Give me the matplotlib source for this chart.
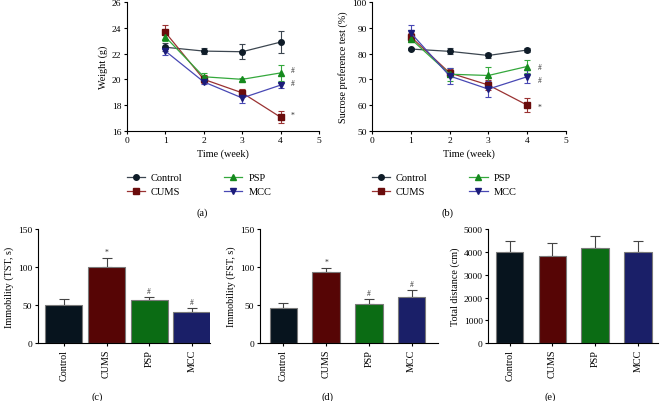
import matplotlib
matplotlib.use("Agg")
import matplotlib.pyplot as plt
from matplotlib.lines import Line2D
import numpy as np

plt.rcParams['font.family'] = ['Liberation Serif', 'DejaVu Serif']
plt.rcParams['font.size'] = 7
plt.rcParams['axes.linewidth'] = 0.8
plt.rcParams['xtick.major.width'] = 0.8
plt.rcParams['ytick.major.width'] = 0.8
plt.rcParams['xtick.major.size'] = 2.5
plt.rcParams['ytick.major.size'] = 2.5
plt.rcParams['xtick.labelsize'] = 6.8
plt.rcParams['ytick.labelsize'] = 6.8

weeks = [1, 2, 3, 4]
groups = ["Control", "CUMS", "PSP", "MCC"]

weight_mean = {
    "Control": [22.5, 22.2, 22.15, 22.9],
    "CUMS": [23.65, 20.0, 18.95, 17.05],
    "PSP": [23.3, 20.2, 20.0, 20.5],
    "MCC": [22.2, 19.8, 18.55, 19.55],
}
weight_err = {
    "Control": [0.3, 0.25, 0.6, 0.85],
    "CUMS": [0.6, 0.3, 0.3, 0.45],
    "PSP": [0.3, 0.3, 0.1, 0.65],
    "MCC": [0.3, 0.2, 0.4, 0.2],
}
sucrose_mean = {
    "Control": [81.8, 80.9, 79.3, 81.4],
    "CUMS": [86.5, 72.5, 67.8, 60.0],
    "PSP": [85.7, 72.0, 71.5, 75.0],
    "MCC": [88.0, 71.3, 66.2, 71.0],
}
sucrose_err = {
    "Control": [0.5, 1.2, 1.0, 0.9],
    "CUMS": [1.5, 1.5, 1.8, 2.9],
    "PSP": [1.2, 2.5, 3.3, 2.6],
    "MCC": [3.0, 3.0, 3.2, 2.5],
}
weight_marks = [("#", 20.75), ("#", 19.7), ("*", 17.2)]
sucrose_marks = [("#", 74.9), ("#", 69.7), ("*", 59.4)]

tst_mean = [50.3, 100.6, 56.8, 40.7]
tst_err = [8.0, 11.0, 3.5, 5.6]
tst_marks = ["", "*", "#", "#"]
fst_mean = [46.8, 94.0, 52.0, 60.3]
fst_err = [6.5, 4.4, 6.0, 9.6]
fst_marks = ["", "*", "#", "#"]
dist_mean = [3980, 3834, 4169, 4009]
dist_err = [510, 550, 540, 480]

marker_colors = {"Control": "#0f1c28", "CUMS": "#6a0c0c", "PSP": "#168a1e", "MCC": "#1c1c7a"}
line_colors = {"Control": "#3c4650", "CUMS": "#9a3232", "PSP": "#34a83c", "MCC": "#4848b4"}
markers = {"Control": "o", "CUMS": "s", "PSP": "^", "MCC": "v"}
bar_colors = ["#07141e", "#560505", "#0b6c14", "#1a1f68"]

W, H = 661, 402
fig = plt.figure(figsize=(W / 100, H / 100), dpi=100)


def ax_px(left, right, top, bottom):
    return fig.add_axes([left / W, 1 - bottom / H, (right - left) / W, (bottom - top) / H])


def style(ax):
    for s in ["top", "right"]:
        ax.spines[s].set_visible(False)
    ax.tick_params(direction="out", pad=1.5)


def line_panel(ax, means, errs, ylim, yticks, ylabel, marks):
    style(ax)
    for g in groups:
        ax.errorbar(weeks, means[g], yerr=errs[g], color=line_colors[g], lw=0.9,
                    marker=markers[g], ms=4, mfc=marker_colors[g], mec=marker_colors[g],
                    ecolor=line_colors[g], elinewidth=0.8, capsize=2.5, capthick=0.8)
    ax.set_xlim(0, 5)
    ax.set_ylim(*ylim)
    ax.set_xticks([0, 1, 2, 3, 4, 5])
    ax.set_yticks(yticks)
    ax.set_xlabel("Time (week)", labelpad=3, fontsize=7.3)
    ax.set_ylabel(ylabel, labelpad=3, fontsize=7.3)
    for txt, y in marks:
        ax.text(4.32, y, txt, fontsize=5.5, ha="center", va="center", color="#333333")


ax_a = ax_px(127, 319, 3.3, 131.7)
line_panel(ax_a, weight_mean, weight_err, (16, 26), [16, 18, 20, 22, 24, 26], "Weight (g)", weight_marks)
ax_b = ax_px(372.3, 565.7, 3.3, 131.7)
line_panel(ax_b, sucrose_mean, sucrose_err, (50, 100), [50, 60, 70, 80, 90, 100],
           "Sucrose preference test (%)", sucrose_marks)

handles = [Line2D([], [], color=line_colors[g], lw=0.9, marker=markers[g], ms=4,
                  mfc=marker_colors[g], mec=marker_colors[g]) for g in groups]
for x0 in [126.5, 371.5]:
    fig.legend(handles, groups, ncol=2, loc="upper left",
               bbox_to_anchor=(x0 / W, 1 - 174 / H), frameon=False,
               handlelength=1.75, columnspacing=4.0, handletextpad=0.6, labelspacing=0.45,
               fontsize=7.5, borderaxespad=0, borderpad=0)

fig.text(202 / W, 1 - 213 / H, "(a)", ha="center", va="center", fontsize=7.5)
fig.text(448 / W, 1 - 213 / H, "(b)", ha="center", va="center", fontsize=7.5)


def bar_panel(ax, means, errs, width, xlim, ylim, yticks, ylabel, marks=None):
    style(ax)
    x = np.arange(len(groups))
    ax.bar(x, means, width=width, color=bar_colors, edgecolor="#7a7a7a", linewidth=0.8, zorder=2)
    ax.errorbar(x, means, yerr=[np.zeros(len(errs)), errs], fmt="none", ecolor="#444444",
                elinewidth=0.8, capsize=3.5, capthick=0.8, zorder=1)
    ax.set_xlim(*xlim)
    ax.set_ylim(*ylim)
    ax.set_yticks(yticks)
    ax.set_xticks(x)
    ax.set_xticklabels(groups, rotation=90, fontsize=7.3)
    ax.set_ylabel(ylabel, labelpad=3, fontsize=7.3)
    if marks:
        for xi, m, e, t in zip(x, means, errs, marks):
            if t:
                ax.text(xi, m + e + (ylim[1] - ylim[0]) * 0.02, t, fontsize=5.5, ha="center",
                        va="bottom", color="#333333")


ax_c = ax_px(37.7, 210, 230, 344.3)
bar_panel(ax_c, tst_mean, tst_err, 0.87, (-0.61, 3.42), (0, 150), [0, 50, 100, 150],
          "Immobility (TST, s)", tst_marks)
ax_d = ax_px(260, 438, 230, 344.3)
bar_panel(ax_d, fst_mean, fst_err, 0.65, (-0.55, 3.62), (0, 150), [0, 50, 100, 150],
          "Immobility (FST, s)", fst_marks)
ax_e = ax_px(488.3, 658, 230, 344.3)
bar_panel(ax_e, dist_mean, dist_err, 0.64, (-0.5, 3.47), (0, 5000),
          [0, 1000, 2000, 3000, 4000, 5000], "Total distance (cm)")

fig.text(97 / W, 1 - 397 / H, "(c)", ha="center", va="center", fontsize=7.5)
fig.text(328 / W, 1 - 397 / H, "(d)", ha="center", va="center", fontsize=7.5)
fig.text(550 / W, 1 - 397 / H, "(e)", ha="center", va="center", fontsize=7.5)

fig.savefig("out.png", dpi=100)
